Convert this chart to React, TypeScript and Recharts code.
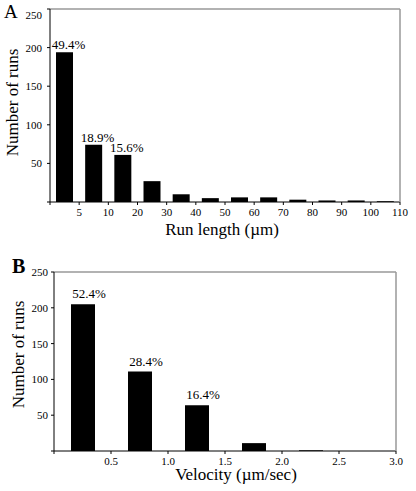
import { BarChart, Bar, XAxis, YAxis, LabelList, Label } from 'recharts';

// run length histogram (panel A)
const runBins = ['0-5', '5-10', '10-20', '20-30', '30-40', '40-50', '50-60', '60-70', '70-80', '80-90', '90-100', '100-110'];
const runCounts = [194, 74, 61, 27, 10, 5, 6, 6, 3, 2, 2, 1];
const runPct = ['49.4%', '18.9%', '15.6%', '', '', '', '', '', '', '', '', ''];
const runEdges = ['5', '10', '20', '30', '40', '50', '60', '70', '80', '90', '100', '110'];

// velocity histogram (panel B)
const velBins = ['0-0.5', '0.5-1.0', '1.0-1.5', '1.5-2.0', '2.0-2.5', '2.5-3.0'];
const velCounts = [205, 111, 64, 11, 1, 0];
const velPct = ['52.4%', '28.4%', '16.4%', '', '', ''];
const velEdges = ['0.5', '1.0', '1.5', '2.0', '2.5', '3.0'];

const yTicks = [0, 50, 100, 150, 200, 250];

const font = '"Liberation Serif", "Times New Roman", serif';
const border = '#999999';

const runData = runBins.map((bin, i) => ({ bin, count: runCounts[i], pct: runPct[i] }));
const velData = velBins.map((bin, i) => ({ bin, count: velCounts[i], pct: velPct[i] }));

// x ticks sit on the bin edges, label = upper edge of the bin
const xTick = (edges: string[], textGap: number) => (props: any) => {
  const { x, y, payload, index } = props;
  const half = payload.offset ?? 0;
  const right = x + half;
  return (
    <g>
      {index === 0 && <line x1={x - half} y1={y} x2={x - half} y2={y + 3} stroke="#000" />}
      <line x1={right} y1={y} x2={right} y2={y + 3} stroke="#000" />
      <text x={right} y={y + textGap} dy="0.71em" textAnchor="middle" fontSize={11} fontFamily={font} fill="#000">
        {edges[index]}
      </text>
    </g>
  );
};

const yTick = (shiftTop: number) => (props: any) => {
  const { x, y, payload } = props;
  if (payload.value === 0) return <g />;
  const dy = payload.value === 250 ? shiftTop : 0;
  return (
    <text x={x} y={y + dy} dy="0.355em" textAnchor="end" fontSize={11} fontFamily={font} fill="#000">
      {payload.value}
    </text>
  );
};

const yLabel = (fromLeft: number, shiftY: number) => (props: any) => {
  const vb = props.viewBox;
  const x = vb.x + fromLeft;
  const y = vb.y + vb.height / 2 + shiftY;
  return (
    <text x={x} y={y} transform={`rotate(-90, ${x}, ${y})`} textAnchor="middle" fontSize={17} fontFamily={font} fill="#000">
      Number of runs
    </text>
  );
};

const xLabel = (text: string, below: number, shiftX: number) => (props: any) => {
  const vb = props.viewBox;
  return (
    <text x={vb.x + vb.width / 2 + shiftX} y={vb.y + below} textAnchor="middle" fontSize={17} fontFamily={font} fill="#000">
      {text}
    </text>
  );
};

const pctLabel = (shiftX: number, gap: number) => (props: any) => {
  const { x, y, width, value } = props;
  if (!value) return <g />;
  return (
    <text x={x + width / 2 + shiftX} y={y - gap} textAnchor="middle" fontSize={13} fontFamily={font} fill="#000">
      {value}
    </text>
  );
};

export default function App() {
  return (
    <div style={{ position: 'absolute', left: 0, top: 0, width: 416, height: 491, background: '#fff' }}>
      <svg width={416} height={491} style={{ position: 'absolute', left: 0, top: 0 }}>
        <text x={4} y={18} fontSize={19} fontFamily={font} fill="#000">A</text>
        <text x={12} y={273} fontSize={20} fontWeight="bold" fontFamily={font} fill="#000">B</text>
      </svg>

      <div style={{ position: 'absolute', left: 0, top: 0 }}>
        <BarChart width={416} height={240} data={runData} margin={{ top: 8, right: 15, bottom: 0, left: 0 }}>
          <XAxis
            dataKey="bin"
            interval={0}
            height={38}
            stroke="#000"
            tickLine={false}
            tickSize={0}
            tickMargin={0}
            tick={xTick(runEdges, 6.5)}
          >
            <Label content={xLabel('Run length (\u00b5m)', 33, -3)} />
          </XAxis>
          {/* grey frame, top and right */}
          <XAxis xAxisId="top" dataKey="bin" orientation="top" height={1} stroke={border} strokeWidth={1.5} tick={false} tickLine={false} />
          <YAxis
            domain={[0, 250]}
            ticks={yTicks}
            interval={0}
            width={50}
            stroke="#000"
            tickSize={3}
            tickMargin={5}
            tick={yTick(6)}
          >
            <Label content={yLabel(18, -3)} />
          </YAxis>
          <YAxis yAxisId="right" orientation="right" domain={[0, 250]} width={1} stroke={border} strokeWidth={1.5} tick={false} tickLine={false} />
          <Bar dataKey="count" fill="#000" barSize={17} isAnimationActive={false}>
            <LabelList dataKey="pct" content={pctLabel(4, 3)} />
          </Bar>
        </BarChart>
      </div>

      <div style={{ position: 'absolute', left: 0, top: 240 }}>
        <BarChart width={416} height={251} data={velData} margin={{ top: 31, right: 19, bottom: 0, left: 0 }}>
          <XAxis
            dataKey="bin"
            interval={0}
            height={40}
            stroke="#000"
            tickLine={false}
            tickSize={0}
            tickMargin={0}
            tick={xTick(velEdges, 6)}
          >
            <Label content={xLabel('Velocity (\u00b5m/sec)', 28.5, 11)} />
          </XAxis>
          <XAxis xAxisId="top" dataKey="bin" orientation="top" height={1} stroke={border} strokeWidth={1.5} tick={false} tickLine={false} />
          <YAxis
            domain={[0, 250]}
            ticks={yTicks}
            interval={0}
            width={54}
            stroke="#000"
            tickSize={3}
            tickMargin={3}
            tick={yTick(0)}
          >
            <Label content={yLabel(24, -7)} />
          </YAxis>
          <YAxis yAxisId="right" orientation="right" domain={[0, 250]} width={1} stroke={border} strokeWidth={1.5} tick={false} tickLine={false} />
          <Bar dataKey="count" fill="#000" barSize={24} isAnimationActive={false}>
            <LabelList dataKey="pct" content={pctLabel(6, 6)} />
          </Bar>
        </BarChart>
      </div>
    </div>
  );
}
